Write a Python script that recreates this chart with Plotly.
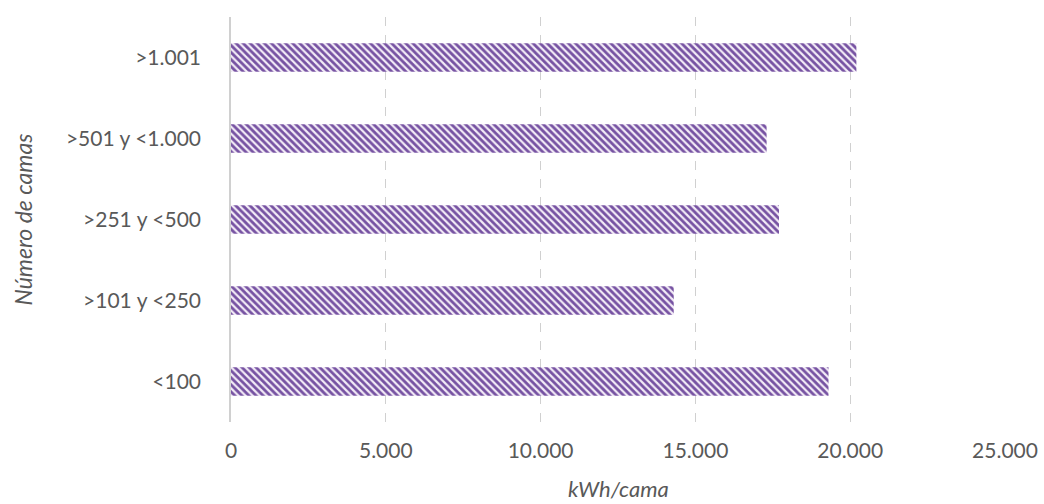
import plotly.graph_objects as go

categories = ["<100", ">101 y <250", ">251 y <500", ">501 y <1.000", ">1.001"]
values = [19300, 14300, 17700, 17300, 20200]
x_ticks = [0, 5000, 10000, 15000, 20000, 25000]
x_tick_labels = ["0", "5.000", "10.000", "15.000", "20.000", "25.000"]
x_title = "kWh/cama"
y_title = "Número de camas"

FONT = "Lato"
TXT = "#595959"

fig = go.Figure(go.Bar(
    x=values, y=categories, orientation="h",
    marker=dict(
        color="#f3ecf7",
        line=dict(width=0),
        pattern=dict(shape="\\", fgcolor="#7652a2", bgcolor="#f3ecf7",
                     size=5, solidity=0.55, fillmode="overlay", fgopacity=1),
    ),
    width=0.35,
))

fig.update_layout(
    width=1044, height=504,
    margin=dict(l=231, r=39, t=17, b=82, autoexpand=False),
    paper_bgcolor="white", plot_bgcolor="white",
    showlegend=False,
    font=dict(family=FONT, size=21, color=TXT),
    xaxis=dict(
        range=[0, 25000], tickvals=x_ticks, ticktext=x_tick_labels,
        showgrid=True, gridcolor="#d0d0d0", griddash="dash", gridwidth=1,
        zeroline=False, showline=False, ticks="",
        ticklabelstandoff=14,
        tickfont=dict(family=FONT, size=21, color=TXT),
        automargin=False,
    ),
    yaxis=dict(
        showgrid=False, zeroline=False,
        showline=True, linecolor="#d0d0d0", linewidth=1.5,
        ticks="", ticklabelstandoff=24,
        tickfont=dict(family=FONT, size=21, color=TXT),
        automargin=False,
    ),
    annotations=[
        dict(text=x_title, xref="paper", yref="paper", x=0.5, y=0,
             yshift=-66, showarrow=False, xanchor="center", yanchor="middle",
             font=dict(family=FONT, size=22, color=TXT, style="italic")),
        dict(text=y_title, xref="paper", yref="paper", x=0, y=0.5,
             xshift=-209, textangle=-90, showarrow=False,
             xanchor="center", yanchor="middle",
             font=dict(family=FONT, size=23, color=TXT, style="italic")),
    ],
)

fig.write_html("out.html")
